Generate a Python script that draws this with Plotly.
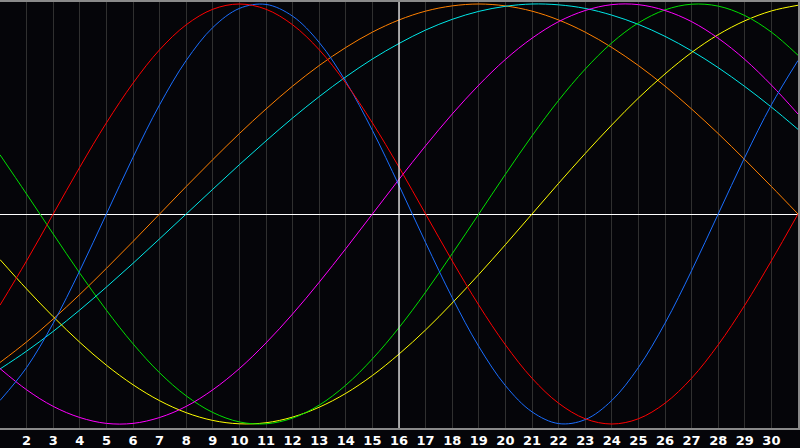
import plotly.graph_objects as go

days = list(range(1, 32))
tick_days = list(range(2, 31))
tick_labels = [str(d) for d in tick_days]

red = [-43.4, -22.3, 0.0, 22.3, 43.4, 62.3, 78.2, 90.1, 97.5, 100.0, 97.5, 90.1, 78.2, 62.3, 43.4, 22.3, 0.0, -22.3, -43.4, -62.3, -78.2, -90.1, -97.5, -100.0, -97.5, -90.1, -78.2, -62.3, -43.4, -22.3, 0.0]
blue = [-88.8, -73.1, -52.0, -27.0, 0.0, 27.0, 52.0, 73.1, 88.8, 97.9, 99.8, 94.2, 81.7, 63.1, 39.8, 13.6, -13.6, -39.8, -63.1, -81.7, -94.2, -99.8, -97.9, -88.8, -73.1, -52.0, -27.0, 0.0, 27.0, 52.0, 73.1]
orange = [-70.7, -60.9, -50.0, -38.3, -25.9, -13.1, 0.0, 13.1, 25.9, 38.3, 50.0, 60.9, 70.7, 79.3, 86.6, 92.4, 96.6, 99.1, 100.0, 99.1, 96.6, 92.4, 86.6, 79.3, 70.7, 60.9, 50.0, 38.3, 25.9, 13.1, 0.0]
cyan = [-73.8, -65.3, -55.9, -45.7, -34.8, -23.5, -11.8, 0.0, 11.8, 23.5, 34.8, 45.7, 55.9, 65.3, 73.8, 81.2, 87.6, 92.7, 96.5, 98.9, 100.0, 99.6, 97.9, 94.7, 90.3, 84.6, 77.7, 69.7, 60.7, 50.9, 40.3]
magenta = [-73.6, -83.7, -91.6, -96.9, -99.7, -99.7, -96.9, -91.6, -83.7, -73.6, -61.4, -47.6, -32.5, -16.5, 0.0, 16.5, 32.5, 47.6, 61.4, 73.6, 83.7, 91.6, 96.9, 99.7, 99.7, 96.9, 91.6, 83.7, 73.6, 61.4, 47.6]
green = [28.2, 9.5, -9.5, -28.2, -45.8, -61.8, -75.6, -86.6, -94.5, -99.0, -99.9, -97.2, -91.0, -81.5, -69.0, -54.1, -37.2, -18.9, 0.0, 18.9, 37.2, 54.1, 69.0, 81.5, 91.0, 97.2, 99.9, 99.0, 94.5, 86.6, 75.6]
yellow = [-21.7, -35.7, -48.9, -61.1, -72.0, -81.3, -88.9, -94.6, -98.3, -99.9, -99.4, -96.7, -92.0, -85.4, -76.9, -66.7, -55.2, -42.4, -28.8, -14.6, 0.0, 14.6, 28.8, 42.4, 55.2, 66.7, 76.9, 85.4, 92.0, 96.7, 99.4]

today = 16

series = [
    ("orange", orange, "#ff8000"),
    ("cyan", cyan, "#00e8e8"),
    ("yellow", yellow, "#ffff00"),
    ("green", green, "#00e000"),
    ("magenta", magenta, "#ff00ff"),
    ("blue", blue, "#1a6eff"),
    ("red", red, "#ff0000"),
]

fig = go.Figure()
for name, vals, col in series:
    fig.add_trace(go.Scatter(x=days, y=vals, mode="lines", name=name,
                             line=dict(color=col, width=1, shape="spline"),
                             hoverinfo="skip"))

fig.add_shape(type="line", xref="x", yref="paper", x0=today, x1=today, y0=0, y1=1,
              line=dict(color="#ffffff", width=1.2), layer="above")

bg = "#050509"
fig.update_layout(
    width=800, height=448,
    margin=dict(l=0, r=0, t=0, b=20),
    paper_bgcolor=bg, plot_bgcolor=bg,
    showlegend=False,
    xaxis=dict(range=[1, 31], tickvals=tick_days, ticktext=tick_labels,
               showgrid=True, gridcolor="#303030", gridwidth=1,
               zeroline=False, showline=True, mirror=True, linecolor="#8a8a8a", linewidth=1.5,
               ticks="", ticklabelstandoff=0,
               tickfont=dict(family="DejaVu Sans", size=13, color="#ffffff", weight="bold")),
    yaxis=dict(range=[-101.9, 100.95], showgrid=False, showticklabels=False,
               zeroline=True, zerolinecolor="#ffffff", zerolinewidth=1.2,
               showline=True, mirror=True, linecolor="#8a8a8a", linewidth=1.5, ticks=""),
)

fig.write_html("out.html", config={"displayModeBar": False},
               post_script="document.body.style.margin='0';document.body.style.background='%s';" % bg)
